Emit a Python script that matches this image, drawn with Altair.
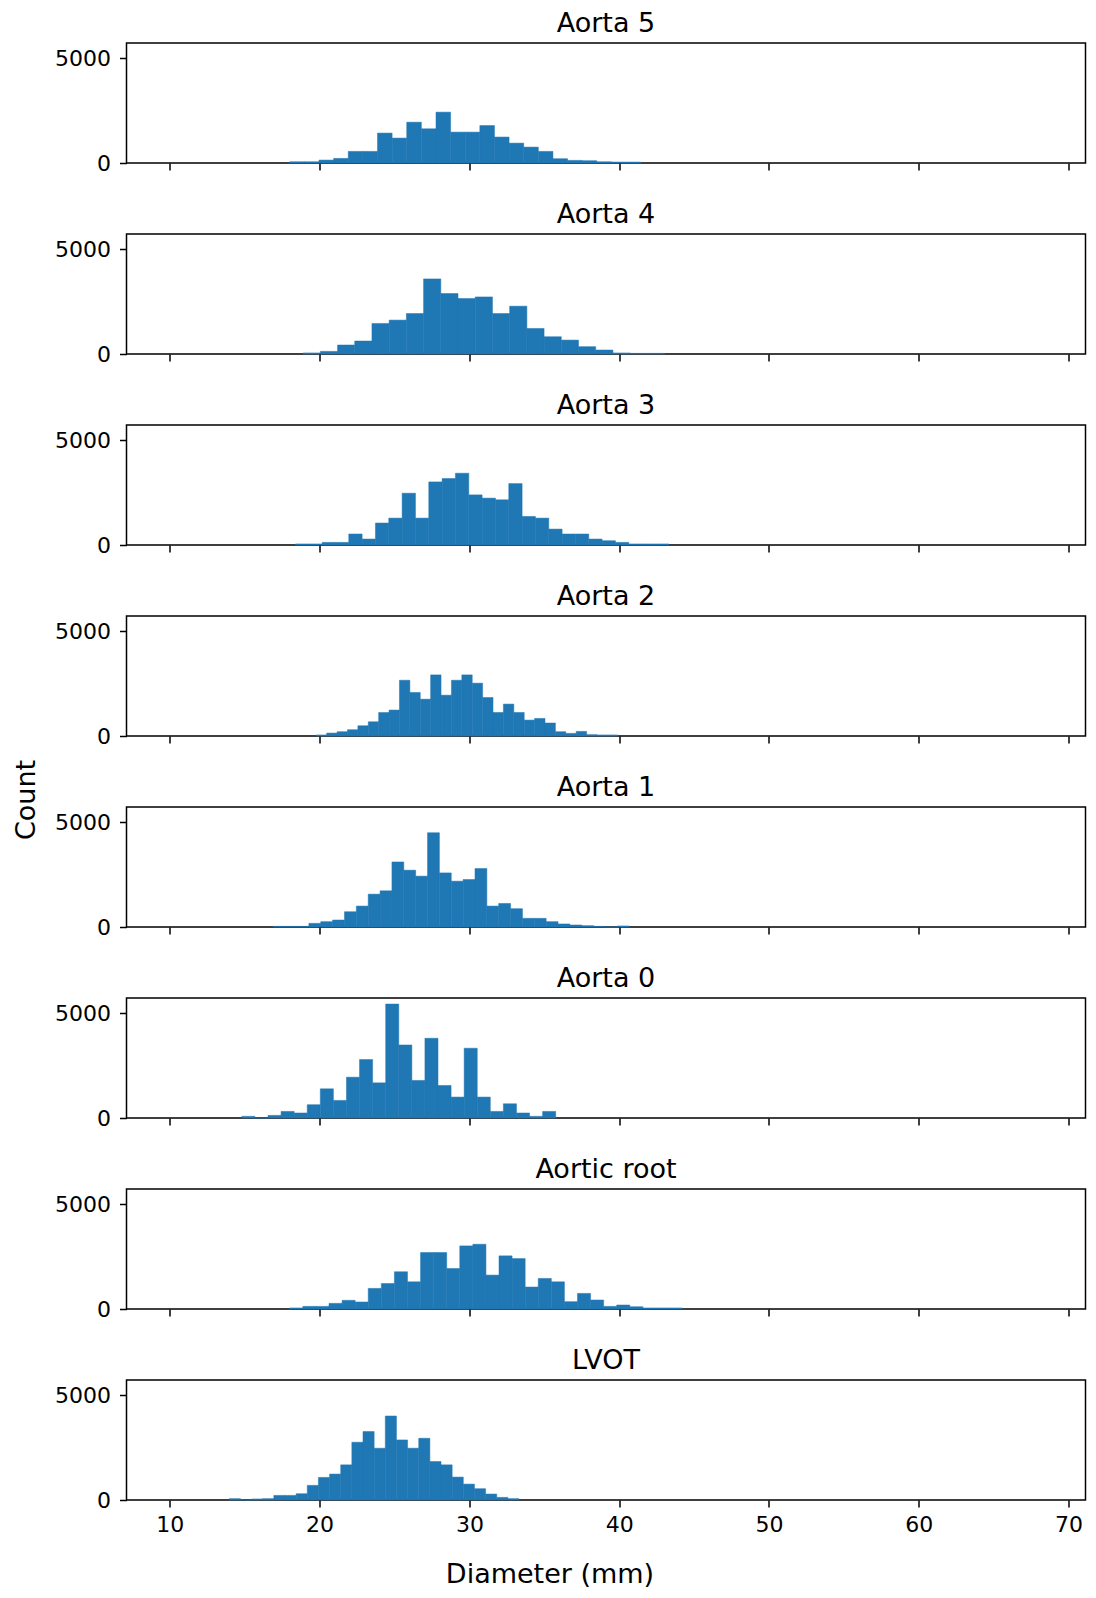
import altair as alt
import pandas as pd

# ---------------- data ----------------
panels = ["Aorta 5", "Aorta 4", "Aorta 3", "Aorta 2", "Aorta 1", "Aorta 0", "Aortic root", "LVOT"]

# left edge of first bin (mm) and bin width (mm) for each panel
bin_start = [18.01, 18.90, 18.39, 19.78, 16.91, 14.81, 18.01, 13.97]
bin_width = [0.976, 1.149, 0.890, 0.694, 0.792, 0.873, 0.873, 0.744]

counts_aorta5 = [60, 60, 140, 220, 555, 555, 1430, 1190, 1950, 1635, 2430, 1475, 1475,
                 1790, 1240, 950, 760, 555, 205, 125, 110, 60, 45, 45]
counts_aorta4 = [50, 125, 430, 620, 1460, 1620, 1935, 3590, 2890, 2650, 2730, 1935, 2285,
                 1220, 825, 665, 350, 190, 50, 30, 30]
counts_aorta3 = [50, 50, 125, 125, 525, 285, 1050, 1285, 2475, 1285, 3015, 3175, 3430, 2395,
                 2240, 2160, 2935, 1365, 1285, 760, 525, 525, 285, 205, 125, 50, 50, 50]
counts_aorta2 = [50, 140, 205, 300, 490, 680, 1125, 1240, 2665, 2080, 1760, 2920, 1950, 2665,
                 2920, 2525, 1840, 1125, 1525, 1125, 760, 840, 620, 205, 125, 220, 65, 50, 50]
counts_aorta1 = [30, 30, 30, 175, 255, 335, 730, 1000, 1570, 1730, 3110, 2715, 2430, 4505,
                 2585, 2190, 2270, 2795, 1000, 1125, 875, 415, 415, 255, 145, 95, 65, 30, 0, 50]
counts_aorta0 = [80, 0, 125, 315, 240, 635, 1395, 840, 1950, 2795, 1680, 5445, 3490, 1795,
                 3810, 1555, 1000, 3335, 1000, 315, 680, 240, 80, 315]
counts_root = [50, 125, 125, 270, 415, 335, 985, 1220, 1780, 1300, 2700, 2700, 1935, 3015,
               3095, 1620, 2540, 2410, 1050, 1460, 1300, 350, 745, 430, 125, 190, 110, 50, 50, 50]
counts_lvot = [65, 0, 50, 65, 220, 220, 300, 700, 1080, 1240, 1680, 2760, 3270, 2475, 4015,
               2870, 2475, 2950, 1840, 1680, 1095, 760, 540, 285, 125, 65]

all_counts = [counts_aorta5, counts_aorta4, counts_aorta3, counts_aorta2,
              counts_aorta1, counts_aorta0, counts_root, counts_lvot]

x_ticks = [10, 20, 30, 40, 50, 60, 70]
y_ticks = [0, 5000]

# ---------------- build table ----------------
rows = []
for name, s, w, cs in zip(panels, bin_start, bin_width, all_counts):
    for i, c in enumerate(cs):
        lo = s + i * w
        rows.append({"panel": name, "lo": lo, "hi": lo + w, "count": c})
df = pd.DataFrame(rows)

FONT = "DejaVu Sans"
BLUE = "#1f77b4"
W, H = 959, 120
XDOM = [7.11, 71.13]
YDOM = [0, 5735]


def make_panel(name, last):
    d = df[df["panel"] == name]
    xaxis_kw = dict(values=x_ticks, labels=last, tickSize=7, tickWidth=1.5, tickColor="black",
                    domain=False, grid=False, labelFontSize=22, labelFont=FONT,
                    labelColor="black", labelPadding=7, format="d")
    if last:
        xaxis_kw.update(titleX=423, titleY=74, titleBaseline="middle", titleAlign="center",
                        titleFontSize=27, titleFont=FONT, titleFontWeight="normal",
                        titleColor="black")
    yaxis = alt.Axis(values=y_ticks, tickSize=7, tickWidth=1.5, tickColor="black",
                     domain=False, grid=False, labelFontSize=22, labelFont=FONT,
                     labelColor="black", labelPadding=9, format="d")
    return (
        alt.Chart(d)
        .mark_rect(color=BLUE, stroke=BLUE, strokeWidth=0.5)
        .encode(
            x=alt.X("lo:Q", scale=alt.Scale(domain=XDOM, nice=False, zero=False),
                    axis=alt.Axis(**xaxis_kw),
                    title="Diameter (mm)" if last else None),
            x2="hi:Q",
            y=alt.Y("count:Q", scale=alt.Scale(domain=YDOM, nice=False), axis=yaxis, title=None),
            y2=alt.datum(0),
        )
        .properties(
            width=W, height=H,
            title=alt.TitleParams(text=name, fontSize=27, font=FONT, fontWeight="normal",
                                  color="black", offset=-16, anchor="middle",
                                  baseline="alphabetic"),
        )
    )


stack = alt.vconcat(*[make_panel(n, i == len(panels) - 1) for i, n in enumerate(panels)],
                    spacing=25)

count_label = (
    alt.Chart(pd.DataFrame({"t": ["Count"]}))
    .mark_text(angle=270, fontSize=27, font=FONT, baseline="middle", align="center", color="black")
    .encode(text="t:N", x=alt.value(19), y=alt.value(757))
    .properties(width=20, height=1500, view=alt.ViewBackground(strokeWidth=0))
)

chart = (
    alt.hconcat(count_label, stack, spacing=13.5)
    .properties(padding={"top": 1, "left": 0, "right": 0, "bottom": 0})
    .configure_view(stroke="black", strokeWidth=1.5)
)

chart.save("out.html", embed_options={"renderer": "svg", "actions": False})
